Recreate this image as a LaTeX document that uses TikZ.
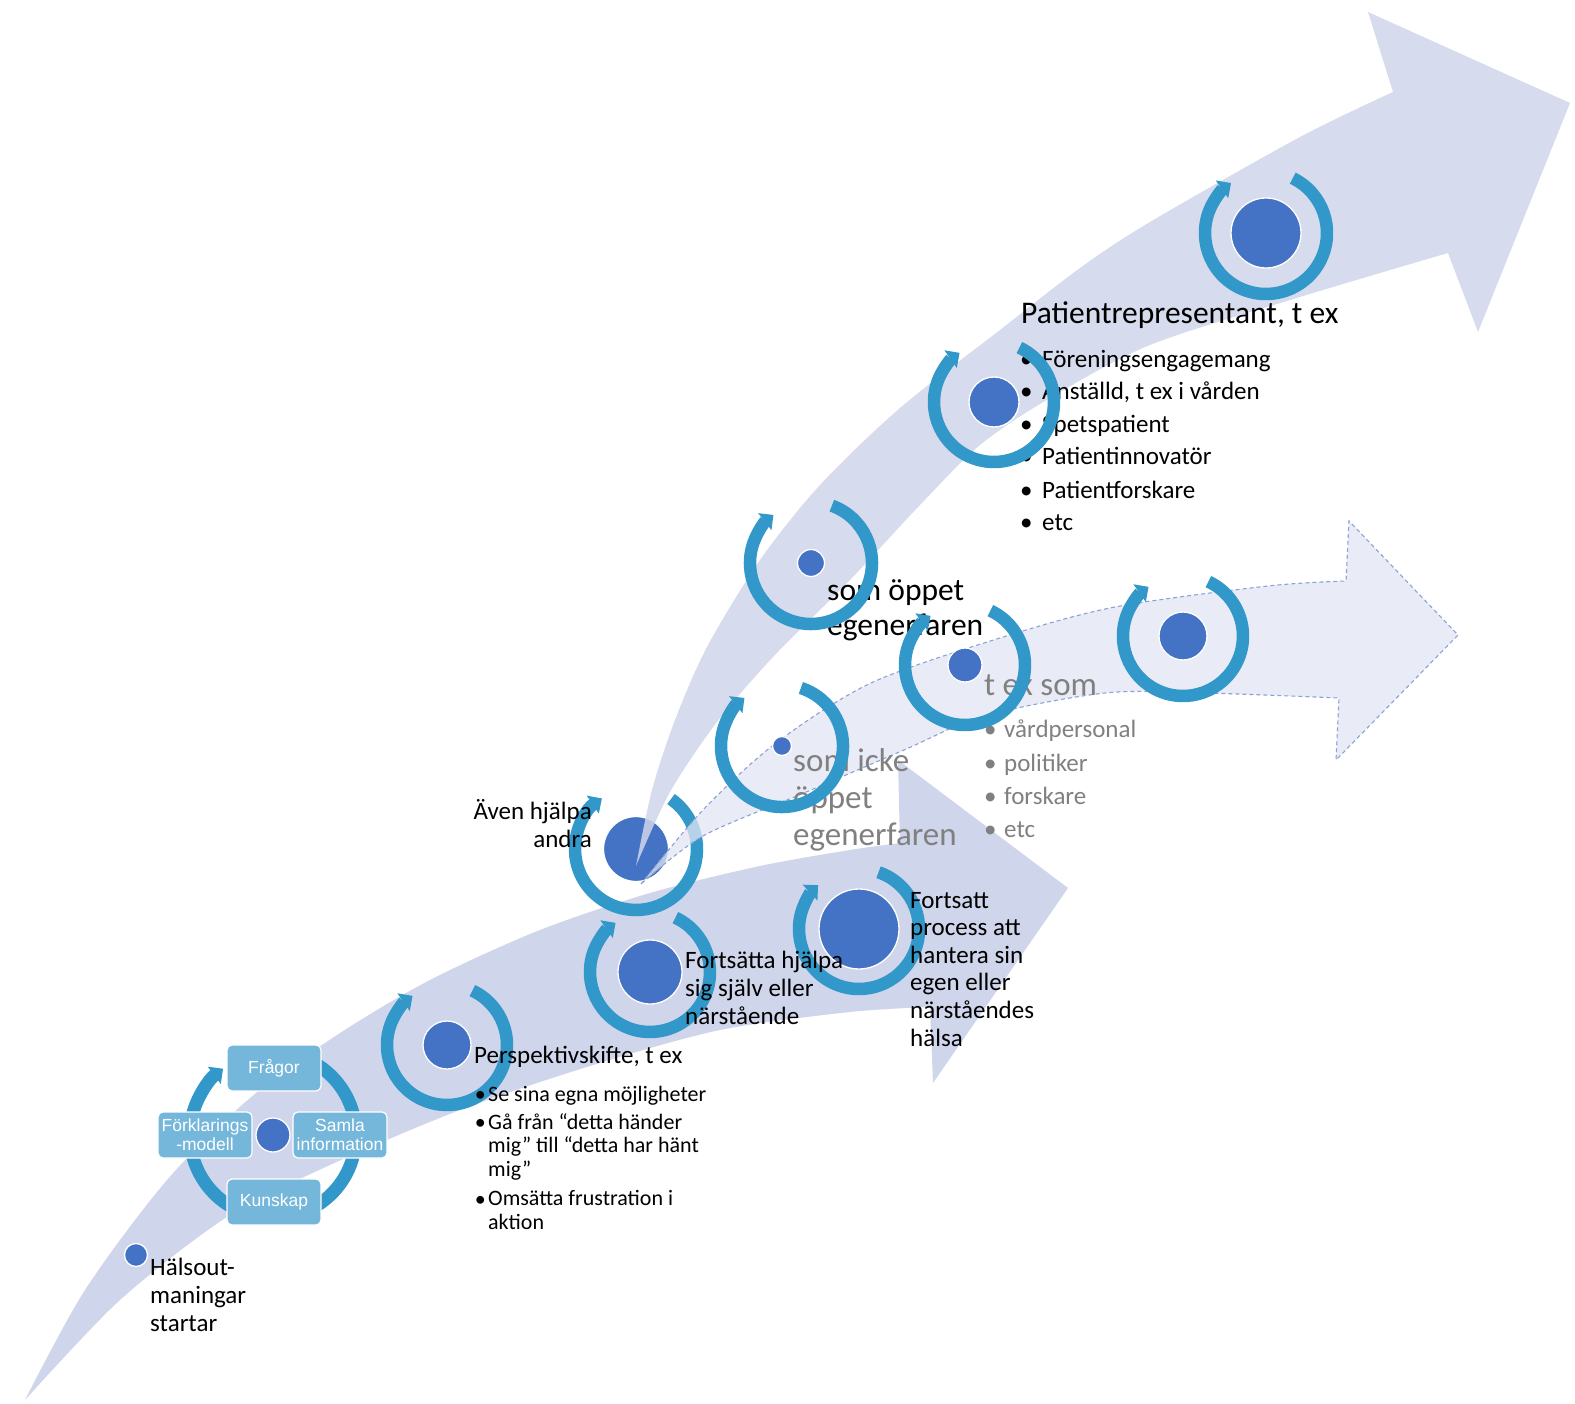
\documentclass[tikz,border=0pt]{standalone}
\usepackage{fontspec}
\setmainfont{Carlito}
\newfontfamily\boxfont{Liberation Sans}
\usetikzlibrary{arrows.meta}

\definecolor{bandlav}{RGB}{207,213,234}
\definecolor{midlav}{RGB}{226,230,243}
\definecolor{midedge}{RGB}{140,162,210}
\definecolor{ringblue}{RGB}{50,152,201}
\definecolor{discblue}{RGB}{68,114,196}
\definecolor{boxblue}{RGB}{117,183,219}
\definecolor{greyink}{RGB}{128,128,128}

\tikzset{
  band/.style={fill=bandlav},
  midband/.style={fill=midlav, fill opacity=0.75, draw=midedge, line width=1.1pt, dash pattern=on 4pt off 3pt},
  ring/.style={draw=ringblue, line width=12.5pt, -{Triangle[length=11pt,width=21pt]}},
  disc/.style={circle, fill=discblue, draw=white, line width=1.3pt, inner sep=0pt},
  cycbox/.style={rectangle, rounded corners=5pt, fill=boxblue, draw=white, line width=1.2pt, text=white,
    font=\boxfont\fontsize{17.5}{19}\selectfont, align=center, minimum width=94pt, minimum height=46pt, inner sep=1pt},
  lbl/.style={anchor=base west, inner sep=0pt, align=left, font=\fontsize{25}{27.6}\selectfont},
  sublbl/.style={lbl, font=\fontsize{22}{23.5}\selectfont},
  bigtxt/.style={lbl, font=\fontsize{31.5}{35}\selectfont},
  greytxt/.style={lbl, text=greyink, font=\fontsize{33}{37}\selectfont},
  greyitem/.style={lbl, text=greyink, font=\fontsize{25}{28}\selectfont},
}

\begin{document}
\begin{tikzpicture}[x=1pt,y=-1pt]
\useasboundingbox (0,0) rectangle (1575,1404);

% lower arrow
\fill[band] plot[smooth] coordinates {(25,1400) (85,1290) (167,1180) (250,1098) (337,1035) (430,980) (540,930) (650,893) (760,866) (850,850) (900,843)}
  -- (898,760) -- (1068,888) -- (933,1083) -- (930,1007)
  -- plot[smooth] coordinates {(930,1007) (850,1012) (720,1030) (590,1066) (460,1110) (330,1165) (227,1217) (120,1300) (25,1400)} -- cycle;

\node[disc, minimum size=65pt] (d7) at (636,849) {};
\draw[ring] (d7.center) ++(55:61pt) arc[start angle=55, end angle=-236, radius=61pt];

% upper arrow
\fill[band, fill opacity=0.85] plot[smooth] coordinates {(636,866) (652,790) (675,720) (707,647) (760,560) (820,485) (900,408) (1000,330) (1080,268) (1150,222) (1300,137) (1393,92)}
  -- (1368,12) -- (1570,103) -- (1478,332) -- (1448,253)
  -- plot[smooth] coordinates {(1448,253) (1300,297) (1150,345) (1050,398) (980,445) (920,505) (850,580) (773,657) (717,722) (670,792) (636,866)} -- cycle;

% middle arrow
\filldraw[midband] plot[smooth] coordinates {(641,884) (703,810) (776,743) (871,683) (1000,638) (1115,607) (1268,586) (1346,581)}
  -- (1349,521) -- (1458,635) -- (1336,760) -- (1339,698)
  -- plot[smooth] coordinates {(1339,698) (1205,693) (1105,693) (984,716) (904,750) (804,793) (703,836) (641,884)} -- cycle;

% multi-line labels sit on their last baseline
\node[bigtxt] (rep) at (1021,324) {Patientrepresentant, t ex};
\node[lbl] (rep1) at (1020,368) {\makebox[22pt][l]{\textbullet}Föreningsengagemang};
\node[lbl] (rep2) at (1020,400) {\makebox[22pt][l]{\textbullet}Anställd, t ex i vården};
\node[lbl] (rep3) at (1020,433) {\makebox[22pt][l]{\textbullet}Spetspatient};
\node[lbl] (rep4) at (1020,465) {\makebox[22pt][l]{\textbullet}Patientinnovatör};
\node[lbl] (rep5) at (1020,498) {\makebox[22pt][l]{\textbullet}Patientforskare};
\node[lbl] (rep6) at (1020,530) {\makebox[22pt][l]{\textbullet}etc};

\node[bigtxt] (open) at (827,635) {som öppet\\egenerfaren};
\node[greytxt] (tex) at (984,695) {t ex som};
\node[greyitem] (g1) at (984,737) {\makebox[20pt][l]{\textbullet}vårdpersonal};
\node[greyitem] (g2) at (984,771) {\makebox[20pt][l]{\textbullet}politiker};
\node[greyitem] (g3) at (984,804) {\makebox[20pt][l]{\textbullet}forskare};
\node[greyitem] (g4) at (984,837) {\makebox[20pt][l]{\textbullet}etc};
\node[greytxt] (closed) at (793,845) {som icke\\öppet\\egenerfaren};

\node[disc, minimum size=70pt] (d1) at (1266,233) {};
\draw[ring] (d1.center) ++(64:61pt) arc[start angle=64, end angle=-235, radius=61pt];
\node[disc, minimum size=50pt] (d2) at (994,402) {};
\draw[ring] (d2.center) ++(65:60pt) arc[start angle=65, end angle=-235, radius=60pt];
\node[disc, minimum size=27pt] (d3) at (811,563) {};
\draw[ring] (d3.center) ++(70:61pt) arc[start angle=70, end angle=-232, radius=61pt];
\node[disc, minimum size=34pt] (d4) at (965,665) {};
\draw[ring] (d4.center) ++(65:60pt) arc[start angle=65, end angle=-235, radius=60pt];
\node[disc, minimum size=48pt] (d5) at (1183,636) {};
\draw[ring] (d5.center) ++(65:60pt) arc[start angle=65, end angle=-235, radius=60pt];
\node[disc, minimum size=19pt] (d6) at (782,746) {};
\draw[ring] (d6.center) ++(72:61pt) arc[start angle=72, end angle=-232, radius=61pt];
\node[disc, minimum size=80pt] (d8) at (859,929) {};
\draw[ring] (d8.center) ++(71:60pt) arc[start angle=71, end angle=-227, radius=60pt];
\node[disc, minimum size=64pt] (d9) at (650,972) {};
\draw[ring] (d9.center) ++(65:60pt) arc[start angle=65, end angle=-235, radius=60pt];
\node[disc, minimum size=48pt] (d10) at (447,1045) {};
\draw[ring] (d10.center) ++(65:60pt) arc[start angle=65, end angle=-235, radius=60pt];

\node[disc, minimum size=34pt] (d11) at (273,1135) {};
\draw[ring, line width=13pt] (d11.center) ++(70:83pt) arc[start angle=70, end angle=-233, radius=83pt];
\node[cycbox] (q) at (274,1068) {Frågor};
\node[cycbox] (model) at (205,1135) {Förklarings\\-modell};
\node[cycbox] (info) at (340,1135) {Samla\\information};
\node[cycbox] (know) at (274,1202) {Kunskap};

\node[disc, minimum size=23pt] (d0) at (136,1255) {};

\node[lbl, anchor=base east, align=right] (help) at (592,847) {Även hjälpa\\andra};
\node[lbl] (self) at (685,1024) {Fortsätta hjälpa\\sig själv eller\\närstående};
\node[lbl] (cont) at (910,1046) {Fortsatt\\process att\\hantera sin\\egen eller\\närståendes\\hälsa};
\node[lbl] (shift) at (474,1063) {Perspektivskifte, t ex};
\node[sublbl] (s1) at (488,1101) {Se sina egna möjligheter};
\node[sublbl] (s2) at (488,1176) {Gå från “detta händer\\mig” till “detta har hänt\\mig”};
\node[sublbl] (s3) at (488,1229) {Omsätta frustration i\\aktion};
\node[sublbl, anchor=base east] (b1) at (486,1101) {\textbullet};
\node[sublbl, anchor=base east] (b2) at (486,1129) {\textbullet};
\node[sublbl, anchor=base east] (b3) at (486,1206) {\textbullet};
\node[lbl] (start) at (150,1331) {Hälsout-\\maningar\\startar};
\end{tikzpicture}
\end{document}
